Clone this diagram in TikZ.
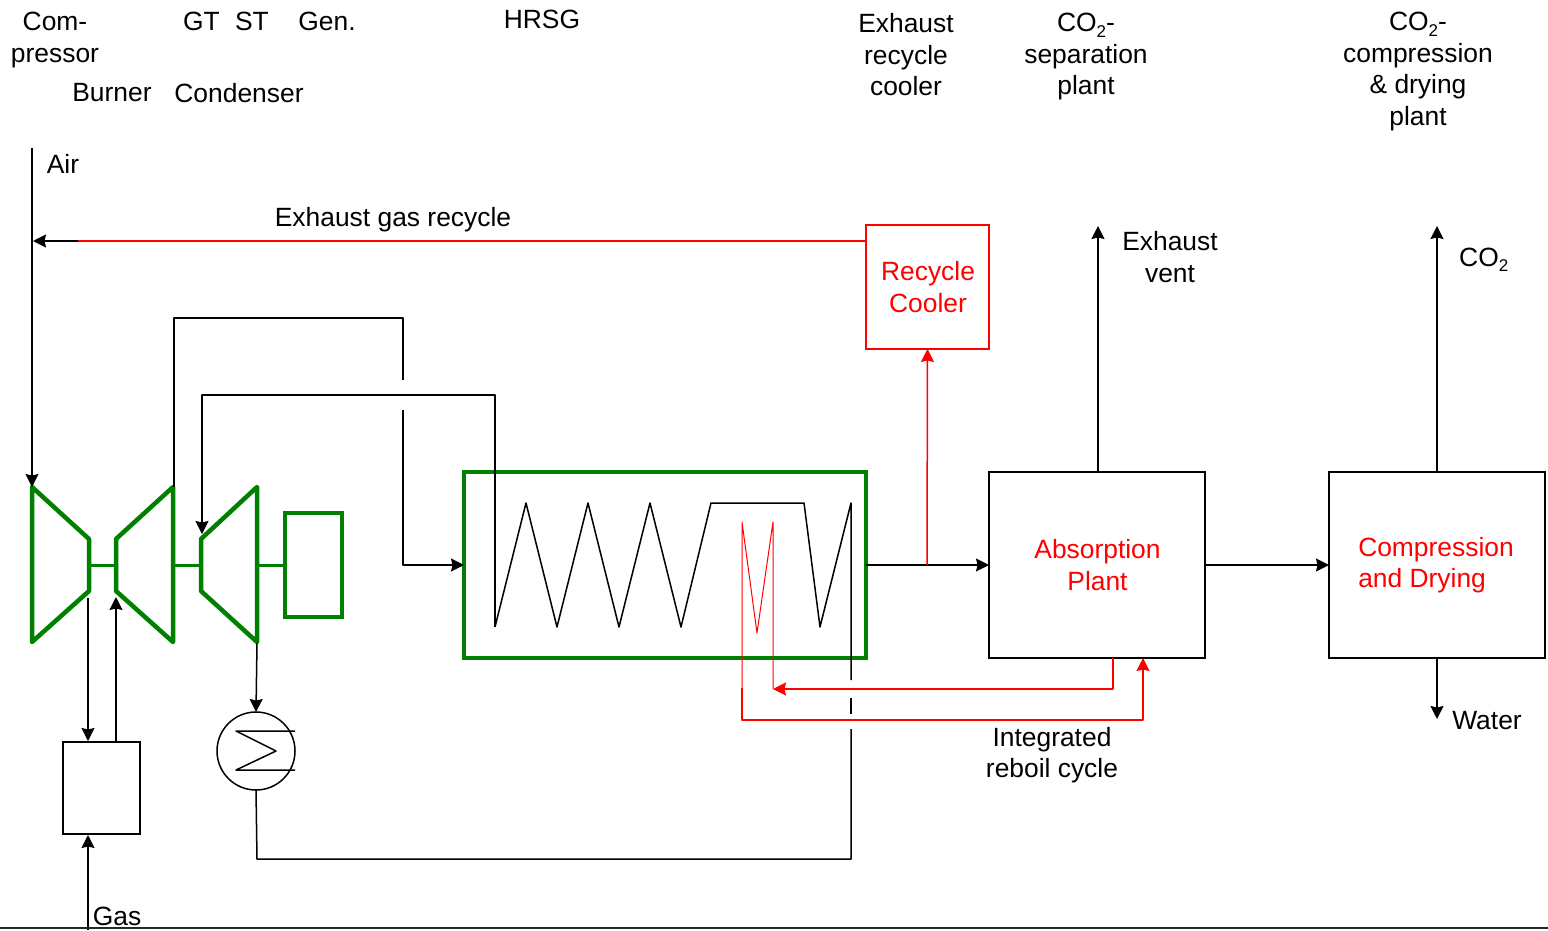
\documentclass[tikz,border=0pt]{standalone}
\usepackage{fontspec}
\setmainfont{Liberation Sans}
\usetikzlibrary{arrows.meta}
\definecolor{plantgreen}{RGB}{0,128,0}
\newcommand{\cotwo}{CO\raisebox{-5.5pt}{\fontsize{17}{17}\selectfont 2}}
\tikzset{
    >={Stealth[length=13pt,width=13pt,inset=1.5pt]},
    line/.style={line width=1.5pt, line join=round},
    redline/.style={line width=1.5pt, red, line join=round},
    thinred/.style={line width=1pt, red, line join=round},
    greenline/.style={line width=4.5pt, plantgreen, line join=round},
    label/.style={align=center, inner sep=0pt, font=\fontsize{26.4}{31.5}\selectfont},
    box/.style={draw, line width=1.5pt, inner sep=0pt, outer sep=0pt, align=center, font=\fontsize{26.4}{31.5}\selectfont},
    greenbox/.style={draw=plantgreen, line width=4.5pt, inner sep=0pt, outer sep=0pt},
}
\begin{document}
\begin{tikzpicture}[x=1pt, y=-1pt]
    \useasboundingbox (0,0) rectangle (1548,930);

    % equipment
    \node[greenbox, minimum width=402pt, minimum height=186pt] (hrsg) at (665,565) {};
    \node[greenbox, minimum width=57pt, minimum height=104pt] (gen) at (313.5,565) {};
    \node[box, minimum width=77pt, minimum height=92pt] (burner) at (101.5,788) {};
    \node[draw, line width=1.5pt, circle, inner sep=0pt, outer sep=0pt, minimum size=78pt] (cond) at (256,751) {};
    \node[box, red, minimum width=123pt, minimum height=124pt] (cooler) at (927.5,287) {\hspace{1pt}\raisebox{-1pt}{Recycle}\\\hspace{1pt}\raisebox{-1pt}{Cooler}};
    \node[box, minimum width=216pt, minimum height=186pt, text=red] (absorb) at (1097,565) {\hspace{1pt}\raisebox{-1.5pt}{Absorption}\\\hspace{1pt}\raisebox{-1.5pt}{Plant}};
    \node[box, minimum width=216pt, minimum height=186pt, text=red, align=left] (compress) at (1437,565) {\hspace{-2pt}\raisebox{-2pt}{Compression}\\\hspace{-2pt}\raisebox{-2pt}{and Drying}};

    % turbines
    \draw[greenline] (32,487) -- (89,539) -- (89,591) -- (32,642) -- cycle;
    \draw[greenline] (173,487) -- (116,539) -- (116,591) -- (173,642) -- cycle;
    \draw[greenline] (257,487) -- (201,539) -- (201,591) -- (257,642) -- cycle;
    \draw[greenline, line width=3.5pt] (89,565.5) -- (116,565.5);
    \draw[greenline, line width=3.5pt] (173,565.5) -- (201,565.5);
    \draw[greenline, line width=3.5pt] (257,565.5) -- (285,565.5);

    % air and exhaust recycle
    \coordinate (airin) at (32,148);
    \coordinate (compin) at (32,487);
    \coordinate (recyclejoin) at (78,241);
    \coordinate (recyclemix) at (33,241);
    \coordinate (coolerout) at (866,241);
    \draw[line, ->] (airin) -- (compin);
    \draw[redline] (coolerout) -- (recyclejoin);
    \draw[line, ->] (recyclejoin) -- (recyclemix);

    % burner
    \coordinate (compout) at (88,598);
    \coordinate (burnerin) at (88,741);
    \coordinate (burnerout) at (116,741);
    \coordinate (gtin) at (116,597);
    \coordinate (gasin) at (88,930);
    \coordinate (burnergas) at (88,835);
    \draw[line, ->] (compout) -- (burnerin);
    \draw[line, ->] (burnerout) -- (gtin);
    \draw[line, ->] (gasin) -- (burnergas);

    % exhaust into the HRSG
    \coordinate (gtout) at (174,487);
    \coordinate (gapa) at (403,380);
    \coordinate (gapb) at (403,410);
    \draw[line] (gtout) -- (174,318) -- (403,318) -- (gapa);
    \draw[line, ->] (gapb) -- (403,565) -- (hrsg.west);

    % steam coil
    \coordinate (stin) at (202,534);
    \draw[line, ->] (495,627) -- (495,395) -- (202,395) -- (stin);
    \draw[line] (495,627) -- (526,503) -- (557,627) -- (588,503) -- (619,627) -- (650,503)
        -- (681,627) -- (711,503) -- (804,503) -- (820,627) -- (851,503) -- (851,680);
    \draw[line] (851,698) -- (851,714);
    \draw[line] (851,729) -- (851,859) -- (257,859) -- (cond.south);

    % condenser
    \coordinate (stout) at (257,643);
    \draw[line, ->] (stout) -- (cond.north);
    \draw[line] (295,731) -- (236,731) -- (276,751) -- (236,770) -- (295,770);

    % reboil cycle
    \coordinate (reboilout) at (1113,658);
    \coordinate (reboilin) at (1143,658);
    \coordinate (reboilret) at (773,689);
    \draw[redline, ->] (reboilout) -- (1113,689) -- (reboilret);
    \draw[thinred] (reboilret) -- (773,522) -- (757,633) -- (742,522) -- (742,688);
    \draw[redline, ->] (742,688) -- (742,720) -- (1143,720) -- (reboilin);

    % gas path
    \coordinate (hrsgcut) at (927,565);
    \draw[line, ->] (hrsg.east) -- (absorb.west);
    \draw[redline, ->] (hrsgcut) -- (cooler.south);
    \draw[line, ->] (absorb.east) -- (compress.west);
    \coordinate (ventend) at (1098,226);
    \coordinate (co2end) at (1437,226);
    \coordinate (waterend) at (1437,719);
    \draw[line, ->] (absorb.north -| ventend) -- (ventend);
    \draw[line, ->] (compress.north) -- (co2end);
    \draw[line, ->] (compress.south) -- (waterend);

    % labels
    \node[label] (lcomp) at (55,40) {Com-\\pressor};
    \node[label] (lgt) at (201.5,21) {GT};
    \node[label] (lst) at (252,21) {ST};
    \node[label] (lgen) at (327,21) {Gen.};
    \node[label] (lhrsg) at (542,19) {HRSG};
    \node[label] (lburner) at (112,93) {Burner};
    \node[label] (lcond) at (239,93) {Condenser};
    \node[label] (lrecycle) at (906,55) {Exhaust\\recycle\\cooler};
    \node[label, anchor=north] (lsep) at (1086,13) {\cotwo-\\separation\\plant};
    \node[label, anchor=north] (lcompress) at (1418,12) {\cotwo-\\compression\\\& drying\\plant};
    \node[label] (lair) at (63,164) {Air};
    \node[label] (lgasrec) at (393,219.5) {Exhaust gas recycle};
    \node[label] (lvent) at (1170,257) {Exhaust\\vent};
    \node[label, anchor=west] (lco2) at (1459,260) {\cotwo};
    \node[label] (lwater) at (1487,721) {Water};
    \node[label] (lreboil) at (1052,755) {Integrated\\reboil cycle};
    \node[label] (lgas) at (117,916) {Gas};

    % bottom rule
    \coordinate (rulea) at (0,928);
    \coordinate (ruleb) at (1548,928);
    \draw[line width=2.5pt, black!85] (rulea) -- (ruleb);
\end{tikzpicture}
\end{document}
